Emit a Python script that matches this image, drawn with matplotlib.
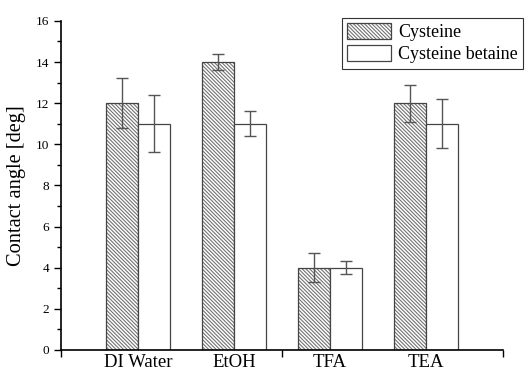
import matplotlib
matplotlib.use("Agg")
import matplotlib.pyplot as plt
import numpy as np
from matplotlib.ticker import MultipleLocator

# contact angle per solvent, mean and error
solvents = ["DI Water", "EtOH", "TFA", "TEA"]
cysteine = [12, 14, 4, 12]
cysteine_err = [1.2, 0.4, 0.7, 0.9]
betaine = [11, 11, 4, 11]
betaine_err = [1.4, 0.6, 0.3, 1.2]

plt.rcParams["font.family"] = ["Liberation Serif", "DejaVu Serif"]
plt.rcParams["hatch.linewidth"] = 0.8

fig = plt.figure(figsize=(5.31, 3.73), dpi=100)
ax = fig.add_axes([0.115, 0.062, 0.832, 0.882])

x = np.arange(1, len(solvents) + 1)
w = 0.335
err_kw = dict(ecolor="#555555", elinewidth=1.0, capsize=4, capthick=1.0)
hatched = ax.bar(x - w / 2, cysteine, w, yerr=cysteine_err, color="white",
                 edgecolor="#444444", hatch="\\" * 9, linewidth=0.9,
                 error_kw=err_kw, label="Cysteine")
# lighter hatch lines than the bar outline
for p in hatched.patches:
    p._hatch_color = (0.45, 0.45, 0.45, 1.0)
ax.bar(x + w / 2, betaine, w, yerr=betaine_err, color="white",
       edgecolor="#444444", linewidth=0.9, error_kw=err_kw,
       label="Cysteine betaine")

ax.set_xlim(0.2, 4.8)
ax.set_ylim(0, 16)
ax.set_xticks(x)
ax.set_xticklabels(solvents, fontsize=13.5)
ax.set_xticks([0.2, 2.5, 4.8], minor=True)
ax.tick_params(axis="x", which="major", length=0, pad=3)
ax.tick_params(axis="x", which="minor", length=5, width=1, direction="out")
ax.yaxis.set_major_locator(MultipleLocator(2))
ax.yaxis.set_minor_locator(MultipleLocator(1))
ax.tick_params(axis="y", which="major", length=5, width=1, labelsize=9.5)
ax.tick_params(axis="y", which="minor", length=3, width=1)
ax.spines["top"].set_visible(False)
ax.spines["right"].set_visible(False)
for s in ("left", "bottom"):
    ax.spines[s].set_linewidth(1.2)

ax.set_ylabel("Contact angle [deg]", fontsize=14.7, labelpad=7)

leg = ax.legend(loc="upper right", bbox_to_anchor=(0.985, 0.953),
                bbox_transform=fig.transFigure, fontsize=13,
                fancybox=False, framealpha=1, borderpad=0.3,
                labelspacing=0.2, handlelength=2.4, handleheight=1.0,
                handletextpad=0.4, borderaxespad=0)
leg.get_frame().set_edgecolor("#333333")
leg.get_frame().set_linewidth(0.8)

fig.savefig("out.png", dpi=100)
